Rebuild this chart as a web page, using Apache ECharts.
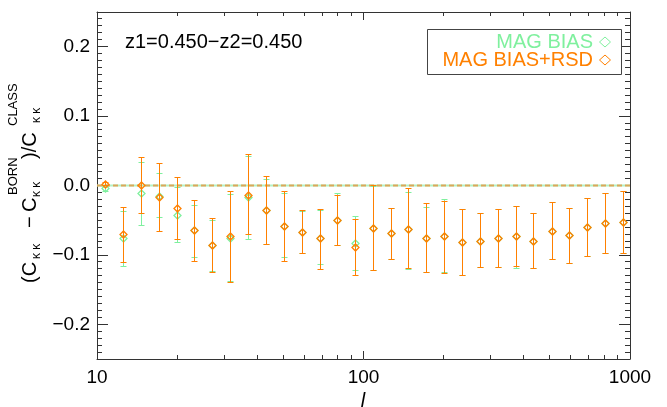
<!DOCTYPE html>
<html>
<head>
<meta charset="utf-8">
<script src="https://cdn.jsdelivr.net/npm/echarts@6/dist/echarts.min.js"></script>
<style>
html,body{margin:0;padding:0;background:#fff;}
#chart{width:667px;height:407px;}
</style>
</head>
<body>
<div id="chart"></div>
<script>
// multipole bins
const ell = [10.8, 12.6, 14.7, 17.1, 20.0, 23.3, 27.2, 31.8, 37.1, 43.3, 50.5, 58.8, 68.7, 80.2, 93.5, 109, 127, 148, 173, 202, 236, 275, 322, 374, 436, 510, 594, 694, 808, 944];

// MAG BIAS (green)
const magBias   = [-0.005, -0.077, -0.012, -0.016, -0.043, -0.065, -0.086, -0.077, -0.018, -0.036, -0.059, -0.068, -0.077, -0.051, -0.083, -0.062, -0.069, -0.063, -0.076, -0.074, -0.082, -0.080, -0.077, -0.073, -0.081, -0.066, -0.072, -0.060, -0.055, -0.053];
const magBiasLo = [-0.008, -0.117, -0.058, -0.046, -0.082, -0.104, -0.124, -0.139, -0.078, -0.085, -0.104, -0.098, -0.114, -0.087, -0.123, -0.122, -0.106, -0.121, -0.125, -0.126, -0.129, -0.118, -0.118, -0.119, -0.120, -0.106, -0.113, -0.102, -0.098, -0.098];
const magBiasHi = [-0.001, -0.037, 0.033, 0.017, -0.003, -0.029, -0.051, -0.013, 0.042, 0.008, -0.012, -0.037, -0.036, -0.012, -0.044, -0.002, -0.033, -0.010, -0.032, -0.020, -0.035, -0.041, -0.035, -0.030, -0.041, -0.025, -0.033, -0.019, -0.012, -0.009];

// MAG BIAS+RSD (orange)
const magRsd   = [0.002, -0.071, 0.000, -0.017, -0.033, -0.065, -0.086, -0.074, -0.014, -0.036, -0.059, -0.068, -0.077, -0.051, -0.090, -0.062, -0.069, -0.063, -0.076, -0.074, -0.082, -0.080, -0.077, -0.073, -0.081, -0.066, -0.072, -0.060, -0.055, -0.053];
const magRsdLo = [0.000, -0.111, -0.041, -0.066, -0.078, -0.110, -0.125, -0.140, -0.071, -0.085, -0.110, -0.098, -0.121, -0.087, -0.130, -0.123, -0.106, -0.119, -0.125, -0.127, -0.129, -0.118, -0.118, -0.116, -0.120, -0.106, -0.112, -0.102, -0.098, -0.098];
const magRsdHi = [0.004, -0.031, 0.040, 0.031, 0.012, -0.021, -0.048, -0.008, 0.044, 0.013, -0.009, -0.036, -0.035, -0.014, -0.049, 0.000, -0.033, -0.005, -0.026, -0.023, -0.035, -0.041, -0.035, -0.030, -0.041, -0.025, -0.033, -0.019, -0.012, -0.009];

// axes
const xMin = 10, xMax = 1000;
const yMin = -0.25, yMax = 0.25;
const xMinorTicks = [20, 30, 40, 50, 60, 70, 80, 90, 200, 300, 400, 500, 600, 700, 800, 900];
const yMinorTicks = [-0.24, -0.23, -0.22, -0.21, -0.19, -0.18, -0.17, -0.16, -0.15, -0.14, -0.13, -0.12, -0.11,
  -0.09, -0.08, -0.07, -0.06, -0.05, -0.04, -0.03, -0.02, -0.01,
  0.01, 0.02, 0.03, 0.04, 0.05, 0.06, 0.07, 0.08, 0.09,
  0.11, 0.12, 0.13, 0.14, 0.15, 0.16, 0.17, 0.18, 0.19, 0.21, 0.22, 0.23, 0.24];
const zeroLine = [[xMin, 0], [xMax, 0]];

const titleText = 'z1=0.450\u2212z2=0.450';
const legendNames = ['MAG BIAS', 'MAG BIAS+RSD'];

const GREEN = '#7ff09e';
const ORANGE = '#ff8000';
const AXIS = '#333';
const FONT = '"Liberation Sans", Arial, Helvetica, sans-serif';

function px(v) { return Math.round(v - 0.5) + 0.5; }

// rows: [l, greenVal, greenLo, greenHi, orangeVal, orangeLo, orangeHi]
const rows = ell.map((v, i) => [v, magBias[i], magBiasLo[i], magBiasHi[i], magRsd[i], magRsdLo[i], magRsdHi[i]]);

function seg(x1, y1, x2, y2, color) {
  return { type: 'line', shape: { x1: x1, y1: y1, x2: x2, y2: y2 }, style: { stroke: color, lineWidth: 1 } };
}
function diamondShape(cx, cy, color) {
  const r = 3.5;
  return {
    type: 'polygon',
    shape: { points: [[cx, cy - r], [cx + r, cy], [cx, cy + r], [cx - r, cy]] },
    style: { fill: 'none', stroke: color, lineWidth: 1.3 }
  };
}

const chart = echarts.init(document.getElementById('chart'), null, { renderer: 'canvas' });

const axisLineStyle = { show: true, onZero: false, lineStyle: { color: AXIS, width: 1 } };

const option = {
  animation: false,
  backgroundColor: '#fff',
  grid: { left: 97, right: 37, top: 12, bottom: 48, containLabel: false },
  xAxis: [
    {
      type: 'log', logBase: 10, min: xMin, max: xMax, position: 'bottom',
      axisLine: axisLineStyle,
      axisTick: { show: true, inside: true, length: 8, lineStyle: { color: AXIS } },
      axisLabel: { show: true, margin: 9, color: '#000', fontSize: 19, fontFamily: FONT,
        formatter: v => String(Math.round(v)) },
      splitLine: { show: false }
    },
    {
      type: 'log', logBase: 10, min: xMin, max: xMax, position: 'top',
      axisLine: axisLineStyle,
      axisTick: { show: true, inside: true, length: 8, lineStyle: { color: AXIS } },
      axisLabel: { show: false },
      splitLine: { show: false }
    }
  ],
  yAxis: [
    {
      type: 'value', min: yMin, max: yMax, splitNumber: 5, position: 'left',
      axisLine: axisLineStyle,
      axisTick: { show: true, inside: true, length: 11, lineStyle: { color: AXIS } },
      axisLabel: { show: true, margin: 7, color: '#000', fontSize: 19, fontFamily: FONT,
        showMinLabel: false, showMaxLabel: false,
        formatter: v => (Math.abs(v) > 0.21 ? '' : v.toFixed(1).replace('-', '\u2212')) },
      splitLine: { show: false }
    },
    {
      type: 'value', min: yMin, max: yMax, splitNumber: 5, position: 'right',
      axisLine: axisLineStyle,
      axisTick: { show: true, inside: true, length: 11, lineStyle: { color: AXIS } },
      axisLabel: { show: false },
      splitLine: { show: false }
    }
  ],
  series: [
    // minor ticks on x (bottom and top)
    {
      type: 'custom', silent: true, z: 1, clip: false,
      data: xMinorTicks.map(v => [v, yMin]),
      renderItem: function (params, api) {
        const v = api.value(0);
        const pb = api.coord([v, yMin]);
        const pt = api.coord([v, yMax]);
        const x = px(pb[0]);
        return { type: 'group', children: [
          seg(x, pb[1], x, pb[1] - 4, AXIS),
          seg(x, pt[1], x, pt[1] + 4, AXIS)
        ] };
      }
    },
    // minor ticks on y (left and right)
    {
      type: 'custom', silent: true, z: 1, clip: false,
      data: yMinorTicks.map(v => [xMin, v]),
      renderItem: function (params, api) {
        const v = api.value(1);
        const pl = api.coord([xMin, v]);
        const pr = api.coord([xMax, v]);
        const y = px(pl[1]);
        return { type: 'group', children: [
          seg(pl[0], y, pl[0] + 5, y, AXIS),
          seg(pr[0], y, pr[0] - 5, y, AXIS)
        ] };
      }
    },
    // zero lines
    {
      type: 'line', data: zeroLine, symbol: 'none', silent: true, z: 2,
      lineStyle: { color: '#b4f2c4', width: 2, type: 'solid' }
    },
    {
      type: 'line', data: zeroLine, symbol: 'none', silent: true, z: 3,
      lineStyle: { color: '#dca75a', width: 2, type: [5, 3] }
    },
    // both series: green first (only where it is not hidden by orange), orange over it
    {
      name: legendNames.join(' / '), type: 'custom', z: 5,
      data: rows,
      renderItem: function (params, api) {
        const x = api.value(0);
        const cx = px(api.coord([x, 0])[0]);
        const Y = v => px(api.coord([x, v])[1]);
        const gV = Y(api.value(1)), gLo = Y(api.value(2)), gHi = Y(api.value(3));
        const oV = Y(api.value(4)), oLo = Y(api.value(5)), oHi = Y(api.value(6));
        const hw = 3;
        const ch = [];
        // green pieces outside the orange bar
        if (gLo > oLo) ch.push(seg(cx, oLo, cx, gLo, GREEN));
        if (gHi < oHi) ch.push(seg(cx, gHi, cx, oHi, GREEN));
        ch.push(seg(cx - hw, gLo, cx + hw, gLo, GREEN));
        ch.push(seg(cx - hw, gHi, cx + hw, gHi, GREEN));
        ch.push(diamondShape(cx, gV, GREEN));
        // orange bar
        ch.push(seg(cx, oLo, cx, oHi, ORANGE));
        ch.push(seg(cx - hw, oLo, cx + hw, oLo, ORANGE));
        ch.push(seg(cx - hw, oHi, cx + hw, oHi, ORANGE));
        ch.push(diamondShape(cx, oV, ORANGE));
        return { type: 'group', children: ch };
      }
    }
  ],
  graphic: [
    { type: 'text', x: 125, y: 42, style: { text: titleText, font: '20px ' + FONT, fill: '#000', verticalAlign: 'middle', align: 'left' } },
    { type: 'text', x: 363, y: 401, style: { text: 'l', font: 'italic 20px ' + FONT, fill: '#000', verticalAlign: 'middle', align: 'center' } },
    // legend
    { type: 'rect', shape: { x: 427.5, y: 29.5, width: 194, height: 45 }, style: { fill: '#fff', stroke: '#444', lineWidth: 1 }, z: 10 },
    { type: 'text', x: 593, y: 42, z: 11, style: { text: legendNames[0], font: '20px ' + FONT, fill: GREEN, verticalAlign: 'middle', align: 'right' } },
    { type: 'text', x: 593, y: 60, z: 11, style: { text: legendNames[1], font: '20px ' + FONT, fill: ORANGE, verticalAlign: 'middle', align: 'right' } },
    { type: 'polygon', z: 11, shape: { points: [[605, 37], [610.5, 42], [605, 47], [599.5, 42]] }, style: { fill: 'none', stroke: GREEN, lineWidth: 1 } },
    { type: 'polygon', z: 11, shape: { points: [[605, 55], [610.5, 60], [605, 65], [599.5, 60]] }, style: { fill: 'none', stroke: ORANGE, lineWidth: 1 } },
    // y-axis title
    {
      type: 'group', x: 30, y: 283, rotation: Math.PI / 2,
      children: [
        { type: 'text', x: 0, y: 0, style: { text: '(C', font: '20px ' + FONT, fill: '#000', verticalAlign: 'middle', align: 'left' } },
        { type: 'text', x: 24, y: 7, style: { text: '\u03ba \u03ba', font: '12px ' + FONT, fill: '#000', verticalAlign: 'middle', align: 'left' } },
        { type: 'text', x: 55, y: 0, style: { text: '\u2212', font: '20px ' + FONT, fill: '#000', verticalAlign: 'middle', align: 'left' } },
        { type: 'text', x: 71, y: 0, style: { text: 'C', font: '20px ' + FONT, fill: '#000', verticalAlign: 'middle', align: 'left' } },
        { type: 'text', x: 86, y: 7, style: { text: '\u03ba \u03ba', font: '12px ' + FONT, fill: '#000', verticalAlign: 'middle', align: 'left' } },
        { type: 'text', x: 88, y: -17, style: { text: 'BORN', font: '13px ' + FONT, fill: '#000', verticalAlign: 'middle', align: 'left' } },
        { type: 'text', x: 124, y: 0, style: { text: ')/C', font: '20px ' + FONT, fill: '#000', verticalAlign: 'middle', align: 'left' } },
        { type: 'text', x: 160, y: 7, style: { text: '\u03ba \u03ba', font: '12px ' + FONT, fill: '#000', verticalAlign: 'middle', align: 'left' } },
        { type: 'text', x: 157, y: -17, style: { text: 'CLASS', font: '13px ' + FONT, fill: '#000', verticalAlign: 'middle', align: 'left' } }
      ]
    }
  ]
};

chart.setOption(option);
</script>
</body>
</html>
